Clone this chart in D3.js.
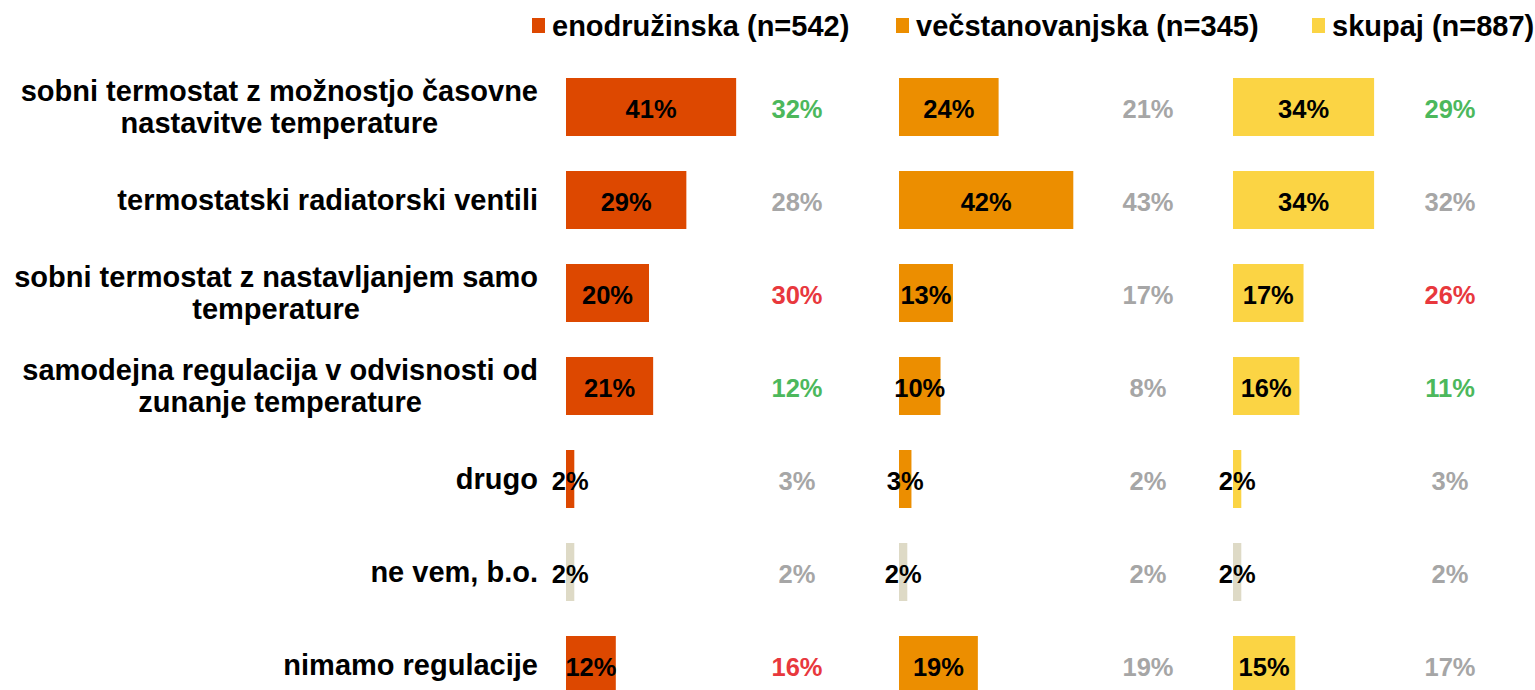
<!DOCTYPE html>
<html>
<head>
<meta charset="utf-8">
<script src="https://cdn.jsdelivr.net/npm/d3@7"></script>
<style>
  body { margin: 0; background: #fff; }
  svg { display: block; font-family: "Liberation Sans", Arial, sans-serif; font-weight: bold; }
</style>
</head>
<body>
<svg width="1535" height="690"></svg>
<script>

// categories (line breaks as in the original)
var categories = [
  "sobni termostat z možnostjo časovne\nnastavitve temperature",
  "termostatski radiatorski ventili",
  "sobni termostat z nastavljanjem samo\ntemperature",
  "samodejna regulacija v odvisnosti od\nzunanje temperature",
  "drugo",
  "ne vem, b.o.",
  "nimamo regulacije"
];

var seriesNames = ["enodružinska (n=542)", "večstanovanjska (n=345)", "skupaj (n=887)"];

var enodruzinska    = [41, 29, 20, 21, 2, 2, 12];
var vecstanovanjska = [24, 42, 13, 10, 3, 2, 19];
var skupaj          = [34, 34, 17, 16, 2, 2, 15];

// comparison values (right of each bar) and their direction
var enodCompare    = [32, 28, 30, 12, 3, 2, 16];
var vecCompare     = [21, 43, 17, 8, 2, 2, 19];
var skupajCompare  = [29, 32, 26, 11, 3, 2, 17];
var enodSignal     = ["up", "same", "down", "up", "same", "same", "down"];
var vecSignal      = ["same", "same", "same", "same", "same", "same", "same"];
var skupajSignal   = ["up", "same", "down", "up", "same", "same", "same"];

var neutralCategory = "ne vem, b.o.";

var colors = ["#dd4800", "#ec8e00", "#fbd444"];
var neutralColor = "#dedac6";
var signalColor = { up: "#4cb85c", same: "#a6a6a6", down: "#e8383d" };

var groups = [
  { values: enodruzinska, compare: enodCompare, signal: enodSignal, x0: 566, cx: 797 },
  { values: vecstanovanjska, compare: vecCompare, signal: vecSignal, x0: 899, cx: 1148 },
  { values: skupaj, compare: skupajCompare, signal: skupajSignal, x0: 1233, cx: 1450 }
];

var svg = d3.select("svg");

var y = d3.scalePoint()
  .domain(categories)
  .range([107, 665]);

var x = d3.scaleLinear()
  .domain([0, 100])
  .range([0, 415]);

var barH = 58;
var labelRight = 538;

// category labels: single lines right aligned, wrapped ones centred in their block
var cat = svg.append("g")
  .selectAll("text")
  .data(categories)
  .enter()
  .append("text")
  .attr("y", function(d) { return y(d); })
  .attr("font-size", "29px")
  .attr("fill", "#000");

cat.each(function(d) {
  var lines = d.split("\n");
  var t = d3.select(this);
  var spans = lines.map(function(line, i) {
    return t.append("tspan")
      .attr("y", y(d) + (i - (lines.length - 1) / 2) * 32)
      .attr("dy", "0.35em")
      .text(line);
  });
  var w = d3.max(spans, function(s) { return s.node().getComputedTextLength(); });
  spans.forEach(function(s) {
    if (lines.length > 1) s.attr("x", labelRight - w / 2).attr("text-anchor", "middle");
    else s.attr("x", labelRight).attr("text-anchor", "end");
  });
});

// bars + labels per group
groups.forEach(function(g, gi) {
  var gg = svg.append("g").attr("transform", "translate(" + g.x0 + ",0)");

  gg.selectAll("rect")
    .data(g.values)
    .enter()
    .append("rect")
    .attr("x", 0)
    .attr("y", function(d, i) { return y(categories[i]) - barH / 2; })
    .attr("width", function(d) { return x(d); })
    .attr("height", barH)
    .attr("fill", function(d, i) { return categories[i] === neutralCategory ? neutralColor : colors[gi]; });

  gg.selectAll("text.val")
    .data(g.values)
    .enter()
    .append("text")
    .attr("class", "val")
    .attr("x", function(d) { return x(d) / 2; })
    .attr("y", function(d, i) { return y(categories[i]) + 2; })
    .attr("dy", "0.35em")
    .attr("text-anchor", "middle")
    .attr("font-size", "25.5px")
    .attr("fill", "#000")
    .text(function(d) { return d + "%"; });

  svg.append("g")
    .selectAll("text")
    .data(g.compare)
    .enter()
    .append("text")
    .attr("x", g.cx)
    .attr("y", function(d, i) { return y(categories[i]) + 2; })
    .attr("dy", "0.35em")
    .attr("text-anchor", "middle")
    .attr("font-size", "25.5px")
    .attr("fill", function(d, i) { return signalColor[g.signal[i]]; })
    .text(function(d) { return d + "%"; });
});

// legend
var legendX = [532, 896, 1312];
var legend = svg.append("g")
  .selectAll("g")
  .data(seriesNames)
  .enter()
  .append("g")
  .attr("transform", function(d, i) { return "translate(" + legendX[i] + ",0)"; });

legend.append("rect")
  .attr("x", 0)
  .attr("y", 18)
  .attr("width", 13)
  .attr("height", 15)
  .attr("fill", function(d, i) { return colors[i]; });

legend.append("text")
  .attr("x", 20)
  .attr("y", 26)
  .attr("dy", "0.35em")
  .attr("font-size", "29px")
  .attr("fill", "#000")
  .text(function(d) { return d; });

</script>
</body>
</html>
